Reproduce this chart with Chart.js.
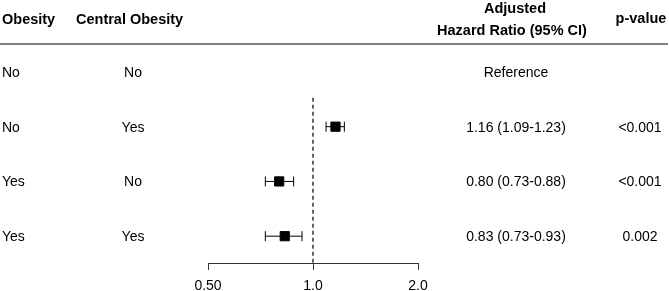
<!DOCTYPE html>
<html>
<head>
<meta charset="utf-8">
<script src="https://cdn.jsdelivr.net/npm/chart.js@4"></script>
<style>
  html, body { margin: 0; padding: 0; background: #fff; }
  #wrap { width: 669px; height: 291px; position: relative; }
</style>
</head>
<body>
<div id="wrap"><canvas id="forest" width="669" height="291"></canvas></div>
<script>
// table columns
const obesity = ["No", "No", "Yes", "Yes"];
const centralObesity = ["No", "Yes", "No", "Yes"];
const hrLabels = ["Reference", "1.16 (1.09-1.23)", "0.80 (0.73-0.88)", "0.83 (0.73-0.93)"];
const pValues = ["", "<0.001", "<0.001", "0.002"];

// estimates
const hr = [null, 1.16, 0.80, 0.83];
const ciLow = [null, 1.09, 0.73, 0.73];
const ciHigh = [null, 1.23, 0.88, 0.93];

// axis
const tickValues = [0.5, 1, 2];
const tickLabels = ["0.50", "1.0", "2.0"];
const refValue = 1;

const font = "'Liberation Sans', Arial, Helvetica, sans-serif";
const rows = obesity.map((_, i) => i + 1);

const datasets = [];

// dashed reference line at HR = 1
datasets.push({
  data: [{ x: refValue, y: 1.47 }, { x: refValue, y: 4.49 }],
  showLine: true,
  borderColor: "#000",
  borderWidth: 1.2,
  borderDash: [4, 3],
  pointRadius: 0,
});

// confidence intervals with end caps
rows.forEach((r, i) => {
  if (hr[i] === null) return;
  datasets.push({
    data: [{ x: ciLow[i], y: r }, { x: ciHigh[i], y: r }],
    showLine: true,
    borderColor: "#000",
    borderWidth: 1,
    pointStyle: "line",
    rotation: 90,
    pointRadius: 5,
    pointBorderWidth: 1,
    pointBorderColor: "#000",
  });
});

// point estimates
datasets.push({
  data: rows.filter((r, i) => hr[i] !== null).map(r => ({ x: hr[r - 1], y: r })),
  pointStyle: "rect",
  pointRadius: 6.5,
  pointBackgroundColor: "#000",
  pointBorderColor: "#000",
  pointBorderWidth: 1,
});

const tablePlugin = {
  id: "tablePlugin",
  afterDraw(chart) {
    const ctx = chart.ctx;
    const y = chart.scales.y;
    ctx.save();
    ctx.fillStyle = "#000";

    // headers
    ctx.font = "bold 14.5px " + font;
    ctx.textBaseline = "alphabetic";
    ctx.textAlign = "left";
    ctx.fillText("Obesity", 2, 24);
    ctx.fillText("Central Obesity", 76, 24);
    ctx.textAlign = "center";
    ctx.fillText("Adjusted", 515, 13);
    ctx.fillText("Hazard Ratio (95% CI)", 512, 35);
    ctx.fillText("p-value", 641, 23);

    ctx.strokeStyle = "#7f7f7f";
    ctx.lineWidth = 2;
    ctx.beginPath();
    ctx.moveTo(0, 44);
    ctx.lineTo(668, 44);
    ctx.stroke();

    // rows
    ctx.font = "14px " + font;
    ctx.textBaseline = "middle";
    rows.forEach((r, i) => {
      const py = y.getPixelForValue(r) + 1;
      ctx.textAlign = "left";
      ctx.fillText(obesity[i], 2, py);
      ctx.textAlign = "center";
      ctx.fillText(centralObesity[i], 133, py);
      ctx.fillText(hrLabels[i], 516, py);
      ctx.fillText(pValues[i], 640, py);
    });
    ctx.restore();
  }
};

new Chart(document.getElementById("forest").getContext("2d"), {
  type: "scatter",
  data: { datasets },
  options: {
    responsive: false,
    animation: false,
    layout: { padding: { left: 208, right: 251, top: 44, bottom: 0 } },
    plugins: { legend: { display: false }, tooltip: { enabled: false } },
    scales: {
      x: {
        type: "logarithmic",
        min: 0.5,
        max: 2,
        afterBuildTicks: (scale) => {
          scale.ticks = tickValues.map(v => ({ value: v }));
        },
        afterFit: (scale) => { scale.height = 28; },
        ticks: {
          color: "#000",
          font: { family: font, size: 14 },
          padding: 8,
          maxRotation: 0,
          autoSkip: false,
          callback: (v) => tickLabels[tickValues.indexOf(v)],
        },
        grid: {
          display: true,
          drawOnChartArea: false,
          drawTicks: true,
          tickLength: 7,
          color: "#333",
          lineWidth: 1,
        },
        border: { display: true, color: "#333", width: 1 },
      },
      y: {
        type: "linear",
        display: false,
        reverse: true,
        min: 0.49,
        max: 4.49,
      },
    },
  },
  plugins: [tablePlugin],
});
</script>
</body>
</html>
